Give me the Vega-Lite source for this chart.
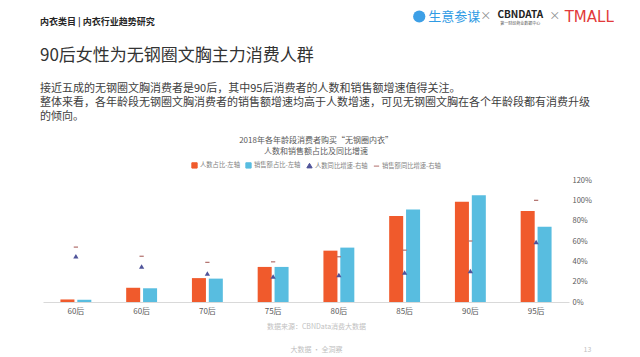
{
  "$schema": "https://vega.github.io/schema/vega-lite/v6.json",
  "padding": {"left": 40, "top": 0, "right": 0, "bottom": 0},
  "autosize": {"type": "pad"},
  "background": "white",
  "bounds": "flush",
  "spacing": 180,
  "config": {"font": "Noto Sans CJK SC", "view": {"stroke": null}},
  "datasets": {
    "logos": [
      {"t": "生意参谋"},
      {"t": "×"},
      {"t": "CBNDATA", "sub": "第一财经商业数据中心"},
      {"t": "×\u200b"},
      {"t": "TMALL"}
    ],
    "chart": [
      {"age": "60后\u200b", "series": "人数占比-左轴", "v": 2.5},
      {"age": "60后\u200b", "series": "销售额占比-左轴", "v": 2.2},
      {"age": "60后\u200b", "series": "人数同比增速-右轴", "v": 45},
      {"age": "60后\u200b", "series": "销售额同比增速-右轴", "v": 54},
      {"age": "60后", "series": "人数占比-左轴", "v": 14},
      {"age": "60后", "series": "销售额占比-左轴", "v": 13.5},
      {"age": "60后", "series": "人数同比增速-右轴", "v": 35},
      {"age": "60后", "series": "销售额同比增速-右轴", "v": 45},
      {"age": "70后", "series": "人数占比-左轴", "v": 23.5},
      {"age": "70后", "series": "销售额占比-左轴", "v": 23},
      {"age": "70后", "series": "人数同比增速-右轴", "v": 28},
      {"age": "70后", "series": "销售额同比增速-右轴", "v": 39},
      {"age": "75后", "series": "人数占比-左轴", "v": 34.5},
      {"age": "75后", "series": "销售额占比-左轴", "v": 34.5},
      {"age": "75后", "series": "人数同比增速-右轴", "v": 25},
      {"age": "75后", "series": "销售额同比增速-右轴", "v": 39.5},
      {"age": "80后", "series": "人数占比-左轴", "v": 50.5},
      {"age": "80后", "series": "销售额占比-左轴", "v": 53.5},
      {"age": "80后", "series": "人数同比增速-右轴", "v": 26.5},
      {"age": "80后", "series": "销售额同比增速-右轴", "v": 44.5},
      {"age": "85后", "series": "人数占比-左轴", "v": 84.5},
      {"age": "85后", "series": "销售额占比-左轴", "v": 91},
      {"age": "85后", "series": "人数同比增速-右轴", "v": 29},
      {"age": "85后", "series": "销售额同比增速-右轴", "v": 51},
      {"age": "90后", "series": "人数占比-左轴", "v": 98.5},
      {"age": "90后", "series": "销售额占比-左轴", "v": 105},
      {"age": "90后", "series": "人数同比增速-右轴", "v": 30.5},
      {"age": "90后", "series": "销售额同比增速-右轴", "v": 60},
      {"age": "95后", "series": "人数占比-左轴", "v": 89.5},
      {"age": "95后", "series": "销售额占比-左轴", "v": 74},
      {"age": "95后", "series": "人数同比增速-右轴", "v": 59},
      {"age": "95后", "series": "销售额同比增速-右轴", "v": 100}
    ]
  },
  "vconcat": [
    {
      "bounds": "flush",
      "spacing": 0,
      "hconcat": [
        {
          "width": 390.75,
          "height": 33,
          "data": {"values": [{}]},
          "mark": {"type": "text", "text": ""},
          "title": {"text": "内衣类目 | 内衣行业趋势研究", "anchor": "start", "frame": "group", "orient": "bottom", "fontSize": 9, "fontWeight": "bold", "color": "#262626", "dx": -3, "dy": -15, "offset": 0}
        },
        {
          "width": 172.5,
          "height": 33,
          "data": {"name": "logos"},
          "encoding": {
            "x": {"field": "t", "type": "nominal", "sort": null, "axis": null, "scale": {"type": "band", "domain": ["生意参谋", "×", "CBNDATA", "×\u200b", "TMALL"], "paddingInner": 0, "paddingOuter": 0}}
          },
          "layer": [
            {"transform": [{"filter": "datum.t == '生意参谋'"}], "mark": {"type": "point", "shape": "circle", "filled": true, "size": 150, "color": "#3d9fe6", "opacity": 1, "xOffset": -32}},
            {"transform": [{"filter": "datum.t == '生意参谋'"}], "mark": {"type": "text", "fontSize": 13, "color": "#2f9be4", "dx": 3}, "encoding": {"text": {"field": "t"}}},
            {"transform": [{"filter": "indexof(datum.t, '×') == 0"}], "mark": {"type": "text", "fontSize": 11, "color": "#8c8c8c"}, "encoding": {"text": {"field": "t"}}},
            {"transform": [{"filter": "datum.t == 'CBNDATA'"}], "mark": {"type": "text", "fontSize": 10, "fontWeight": "bold", "color": "#222222", "dy": -2}, "encoding": {"text": {"field": "t"}}},
            {"transform": [{"filter": "datum.t == 'CBNDATA'"}], "mark": {"type": "text", "fontSize": 4, "color": "#555555", "dy": 7}, "encoding": {"text": {"field": "sub"}}},
            {"transform": [{"filter": "datum.t == 'TMALL'"}], "mark": {"type": "text", "fontSize": 15, "color": "#e23a3a", "font": "DejaVu Sans"}, "encoding": {"text": {"field": "t"}}}
          ]
        }
      ]
    },
    {
      "width": 526,
      "height": 122,
      "data": {"name": "chart"},
      "title": {
        "text": "90后女性为无钢圈文胸主力消费人群",
        "subtitle": ["接近五成的无钢圈文胸消费者是90后，其中95后消费者的人数和销售额增速值得关注。", "整体来看，各年龄段无钢圈文胸消费者的销售额增速均高于人数增速，可见无钢圈文胸在各个年龄段都有消费升级", "的倾向。"],
        "anchor": "start", "frame": "group", "dx": -3, "offset": 53,
        "fontSize": 17, "fontWeight": "normal", "color": "#333333",
        "subtitleFontSize": 11, "subtitleColor": "#404040", "subtitleLineHeight": 14, "subtitlePadding": 18
      },
      "encoding": {
        "x": {"field": "age", "type": "nominal", "sort": null,
          "scale": {"paddingInner": 0.53, "paddingOuter": 0.265},
          "axis": {"title": ["数据来源：CBNData消费大数据", "大数据 · 全洞察"], "titleFontSize": 7, "titleColor": "#bfbfbf", "titleFontWeight": "normal", "titleLineHeight": 23.3, "titleX": 273, "titleY": 20, "titleAlign": "center", "titleBaseline": "top",
            "labelAngle": 0, "labelFontSize": 8, "labelColor": "#595959", "labelPadding": 5, "ticks": false, "domainColor": "#d9d9d9"}},
        "y": {"field": "v", "type": "quantitative",
          "scale": {"domain": [0, 120], "nice": false},
          "axis": {"orient": "right", "values": [0, 20, 40, 60, 80, 100, 120], "labelExpr": "datum.value + '%'", "grid": false, "domain": false, "ticks": false, "labelPadding": 3, "labelFontSize": 7.5, "labelColor": "#595959",
            "title": "13", "titleAngle": 0, "titleX": 18, "titleY": 169, "titleAlign": "center", "titleBaseline": "middle", "titleFontSize": 7, "titleColor": "#bfbfbf", "titleFontWeight": "normal"}}
      },
      "layer": [
        {
          "transform": [{"filter": "datum.series == '人数占比-左轴' || datum.series == '销售额占比-左轴'"}],
          "mark": {"type": "bar"},
          "encoding": {
            "xOffset": {"field": "series", "type": "nominal", "scale": {"domain": ["人数占比-左轴", "销售额占比-左轴"], "paddingInner": 0.17, "paddingOuter": 0}},
            "color": {"field": "series", "type": "nominal",
              "scale": {"domain": ["人数占比-左轴", "销售额占比-左轴", "人数同比增速-右轴", "销售额同比增速-右轴"], "range": ["#f05a2c", "#58bde0", "#50549a", "#b06e6a"]},
              "legend": {"orient": "none", "legendX": 148, "legendY": 136.5, "direction": "horizontal",
                "title": ["2018年各年龄段消费者购买“无钢圈内衣”", "人数和销售额占比及同比增速"], "titleAnchor": "middle", "titleFontSize": 8, "titleFontWeight": "normal", "titleColor": "#595959", "titleLineHeight": 11, "titlePadding": 6,
                "labelFontSize": 6.3, "labelColor": "#7f7f7f", "symbolSize": 28, "columnPadding": 3, "labelOffset": 2,
                "encode": {"symbols": {"update": {"stroke": {"scale": "color", "field": "value"}, "strokeWidth": {"value": 1}}}}}
            }
          }
        },
        {
          "transform": [{"filter": "datum.series == '人数同比增速-右轴'"}],
          "mark": {"type": "point", "filled": true, "size": 28, "opacity": 1},
          "encoding": {
            "color": {"field": "series", "type": "nominal"},
            "shape": {"field": "series", "type": "nominal",
              "scale": {"domain": ["人数占比-左轴", "销售额占比-左轴", "人数同比增速-右轴", "销售额同比增速-右轴"], "range": ["square", "square", "triangle-up", "stroke"]},
              "legend": {"orient": "none", "legendX": 148, "legendY": 136.5, "direction": "horizontal",
                "title": ["2018年各年龄段消费者购买“无钢圈内衣”", "人数和销售额占比及同比增速"], "titleAnchor": "middle", "titleFontSize": 8, "titleFontWeight": "normal", "titleColor": "#595959", "titleLineHeight": 11, "titlePadding": 6,
                "labelFontSize": 6.3, "labelColor": "#7f7f7f", "symbolSize": 28, "columnPadding": 3, "labelOffset": 2}}
          }
        },
        {
          "transform": [{"filter": "datum.series == '销售额同比增速-右轴'"}],
          "mark": {"type": "point", "filled": false, "size": 18, "strokeWidth": 1.2, "opacity": 1},
          "encoding": {
            "color": {"field": "series", "type": "nominal"},
            "shape": {"field": "series", "type": "nominal"}
          }
        }
      ]
    }
  ]
}
